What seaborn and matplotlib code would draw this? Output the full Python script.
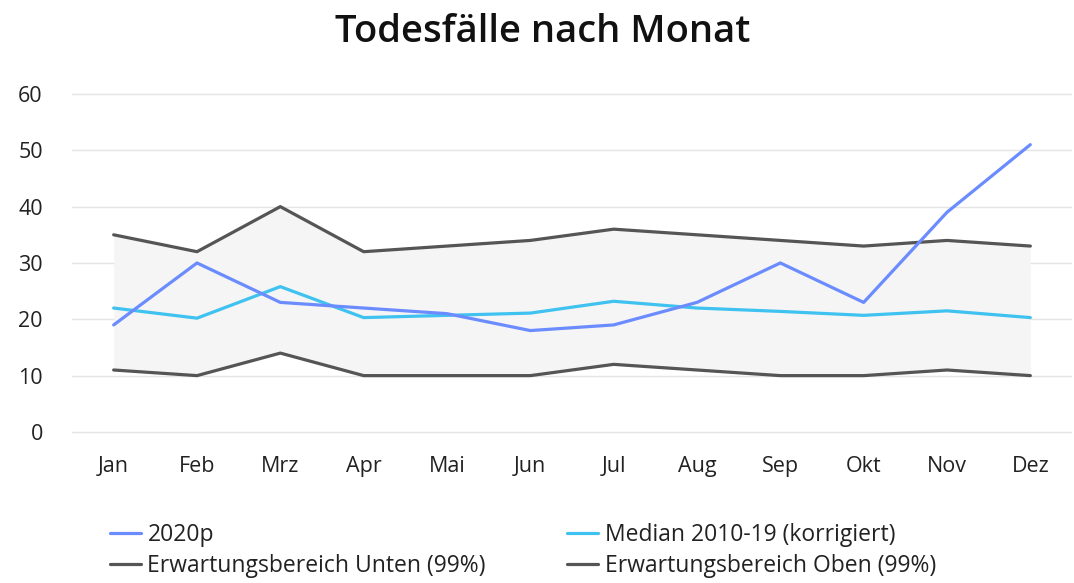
import matplotlib
matplotlib.use("Agg")
import matplotlib.pyplot as plt
import seaborn as sns
import pandas as pd
import numpy as np

months = ["Jan", "Feb", "Mrz", "Apr", "Mai", "Jun", "Jul", "Aug", "Sep", "Okt", "Nov", "Dez"]
deaths_2020 = [19, 30, 23, 22, 21, 18, 19, 23, 30, 23, 39, 51]
median_2010_19 = [22, 20.2, 25.8, 20.3, 20.7, 21.1, 23.2, 22, 21.4, 20.7, 21.5, 20.3]
lower_99 = [11, 10, 14, 10, 10, 10, 12, 11, 10, 10, 11, 10]
upper_99 = [35, 32, 40, 32, 33, 34, 36, 35, 34, 33, 34, 33]
yticks = [0, 10, 20, 30, 40, 50, 60]

sns.set_theme(style="white")
plt.rcParams['font.family'] = ['Open Sans', 'DejaVu Sans']

fig = plt.figure(figsize=(10.74, 5.83), dpi=100)
ax = fig.add_axes([72/1074, 140.9/583, 1000/1074, 359.4/583])

x = np.arange(len(months))
df = pd.DataFrame({"x": x, "2020p": deaths_2020, "median": median_2010_19,
                   "lower": lower_99, "upper": upper_99})

ax.fill_between(df["x"], df["lower"], df["upper"], color="#f5f5f5", zorder=1, linewidth=0)

c_gray = "#555555"
sns.lineplot(data=df, x="x", y="lower", ax=ax, color=c_gray, linewidth=2.3,
             label="Erwartungsbereich Unten (99%)", zorder=3)
sns.lineplot(data=df, x="x", y="upper", ax=ax, color=c_gray, linewidth=2.3,
             label="Erwartungsbereich Oben (99%)", zorder=3)
sns.lineplot(data=df, x="x", y="median", ax=ax, color="#3fc2ef", linewidth=2.3,
             label="Median 2010-19 (korrigiert)", zorder=4)
sns.lineplot(data=df, x="x", y="2020p", ax=ax, color="#6b8cff", linewidth=2.3,
             label="2020p", zorder=5)

ax.set_xlim(-0.5, len(months) - 0.5)
ax.set_ylim(-1.8, 62)
ax.set_xticks(x)
ax.set_xticklabels(months)
ax.set_yticks(yticks)
ax.set_xlabel("")
ax.set_ylabel("")
ax.grid(axis="y", color="#e4e4e4", linewidth=1)
ax.grid(axis="x", visible=False)
for s in ax.spines.values():
    s.set_visible(False)
ax.tick_params(axis="both", length=0, labelsize=15.5, colors="#222222")
ax.tick_params(axis="x", pad=10)
ax.tick_params(axis="y", pad=21)
for lbl in ax.get_yticklabels():
    lbl.set_horizontalalignment("right")

handles, labels = ax.get_legend_handles_labels()
order = ["2020p", "Erwartungsbereich Unten (99%)", "Median 2010-19 (korrigiert)", "Erwartungsbereich Oben (99%)"]
hmap = dict(zip(labels, handles))
ax.get_legend().remove()
fig.legend([hmap[o] for o in order], order, ncol=2, frameon=False,
           loc="upper left", bbox_to_anchor=(89/1074, 1 - 502/583),
           fontsize=16.5, handlelength=1.35, handletextpad=0.3,
           columnspacing=3.55, labelspacing=0.32, labelcolor="#222222")

fig.suptitle("Todesfälle nach Monat", x=0.505, y=0.978, fontsize=27.5, color="#111111",
             va="top", fontweight="semibold")

fig.savefig("out.png", dpi=100)
